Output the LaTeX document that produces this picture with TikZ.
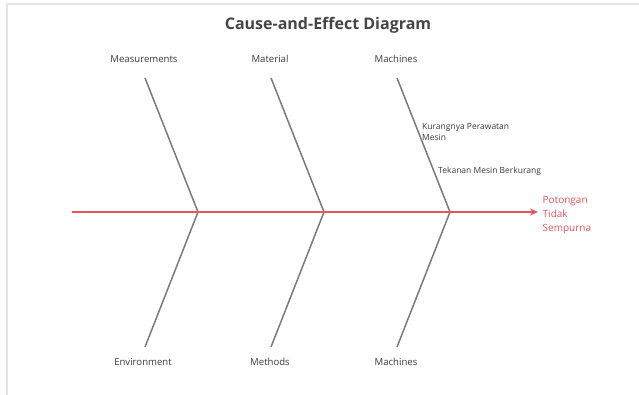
\documentclass[tikz,border=0pt]{standalone}
\usepackage{fontspec}
\setmainfont{Open Sans}
\usetikzlibrary{arrows.meta}
\definecolor{bonegray}{HTML}{7A7A7A}
\definecolor{spinered}{HTML}{E0585C}
\definecolor{txtgray}{HTML}{3A3A3A}
\definecolor{titlegray}{HTML}{454545}
\definecolor{framegray}{HTML}{E4E4E4}
\tikzset{
  bone/.style={draw=bonegray, line width=1.5pt},
  spine/.style={draw=spinered, line width=1.4pt, -{Stealth[open, length=8pt, width=7pt]}},
  catlabel/.style={font=\fontsize{9.6}{11}\selectfont, text=txtgray, inner sep=0pt, anchor=base},
  causelabel/.style={font=\fontsize{8.5}{10.5}\selectfont, text=txtgray, inner sep=0pt, anchor=west, align=left},
  effectlabel/.style={font=\fontsize{10}{14}\selectfont, text=spinered, inner sep=0pt, anchor=west, align=left},
  titlelabel/.style={font=\fontsize{16}{18}\selectfont\bfseries, text=titlegray, inner sep=0pt, anchor=base}
}
\begin{document}
\begin{tikzpicture}[x=1pt, y=-1pt]
\useasboundingbox (0,0) rectangle (639,395);
\draw[framegray, line width=1.5pt] (7,395) -- (7,4) -- (639,4);
\node[titlelabel] (title) at (328,30) {Cause-and-Effect Diagram};
% spine
\coordinate (tail) at (72,212);
\coordinate (head) at (538,212);
\coordinate (j1) at (198,212);
\coordinate (j2) at (324,212);
\coordinate (j3) at (450,212);
% bone ends
\coordinate (u1) at (145,78);
\coordinate (u2) at (271,78);
\coordinate (u3) at (397,78);
\coordinate (d1) at (145,347);
\coordinate (d2) at (271,347);
\coordinate (d3) at (397,347);
\draw[bone] (u1) -- (j1) -- (d1);
\draw[bone] (u2) -- (j2) -- (d2);
\draw[bone] (u3) -- (j3) -- (d3);
\draw[spine] (tail) -- (head);
% labels
\node[catlabel] (meas) at (144,62.5) {Measurements};
\node[catlabel] (mat) at (270,62.5) {Material};
\node[catlabel] (mach1) at (396,62.5) {Machines};
\node[catlabel] (env) at (143,365) {Environment};
\node[catlabel] (meth) at (270,365) {Methods};
\node[catlabel] (mach2) at (396,365) {Machines};
\node[causelabel] (c1) at (422,132) {Kurangnya Perawatan\\Mesin};
\node[causelabel] (c2) at (438,171) {Tekanan Mesin Berkurang};
\node[effectlabel] (eff) at (542.5,215.5) {Potongan\\Tidak\\Sempurna};
\end{tikzpicture}
\end{document}
